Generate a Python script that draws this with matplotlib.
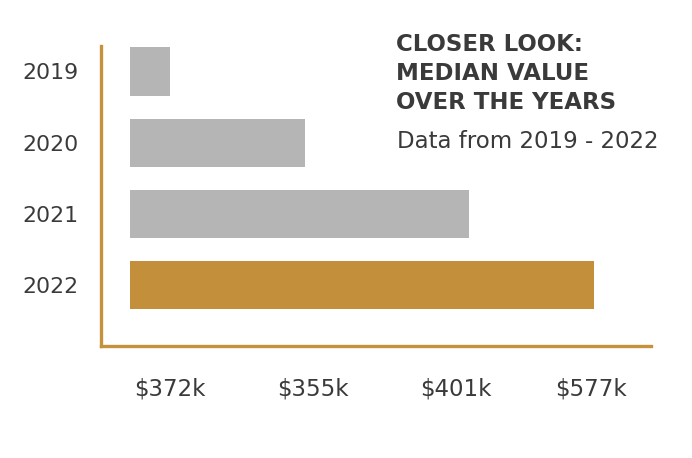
import matplotlib
matplotlib.use("Agg")
import matplotlib.pyplot as plt

years = ["2019", "2020", "2021", "2022"]
bar_lengths = [40, 175, 339, 464]          # relative bar lengths
value_labels = ["$372k", "$355k", "$401k", "$577k"]
label_positions = [40, 183, 326, 461]
bar_colors = ["#b5b5b6", "#b5b5b6", "#b5b5b6", "#c38f3b"]

GOLD = "#c4913c"
TEXT = "#3a3a3a"

fig = plt.figure(figsize=(6.92, 4.58), dpi=100)
W, H = 692, 458
ax = fig.add_axes([101 / W, (H - 346) / H, 550 / W, 300 / H])

ypos = list(range(len(years)))
ax.barh(ypos, bar_lengths, height=0.675, color=bar_colors, left=0)
ax.set_xlim(-29, 521)
ax.set_ylim(3.857, -0.358)

for s in ["top", "right"]:
    ax.spines[s].set_visible(False)
for s in ["left", "bottom"]:
    ax.spines[s].set_color(GOLD)
    ax.spines[s].set_linewidth(2.4)

ax.set_yticks(ypos)
ax.set_yticklabels(years, fontsize=15.8, color=TEXT)
ax.set_xticks(label_positions)
ax.set_xticklabels(value_labels, fontsize=16.5, color=TEXT)
ax.tick_params(axis="y", length=0, pad=16)
ax.tick_params(axis="x", length=0, pad=23)

fig.text(396 / W, 1 - 33 / H, "CLOSER LOOK:\nMEDIAN VALUE\nOVER THE YEARS",
         fontsize=16.5, fontweight="bold", color=TEXT, va="top", ha="left",
         linespacing=1.32)
fig.text(397 / W, 1 - 141 / H, "Data from 2019 - 2022", fontsize=16.5,
         color=TEXT, va="center", ha="left")

fig.savefig("out.png", dpi=100)
